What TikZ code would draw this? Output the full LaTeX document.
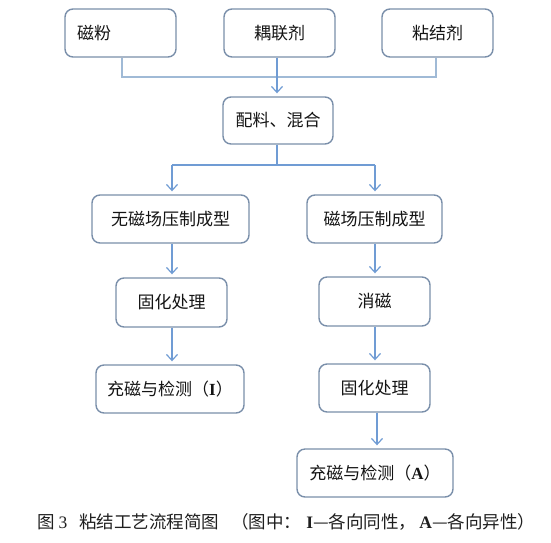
\documentclass[tikz,border=0pt]{standalone}
\usepackage{fontspec}
\setmainfont{Noto Sans CJK SC}
\newfontfamily\latinserif{Liberation Serif}
\usetikzlibrary{arrows.meta}
\definecolor{boxline}{RGB}{122,143,170}
\definecolor{arrowline}{RGB}{112,156,212}
\definecolor{joinline}{RGB}{160,186,214}
\begin{document}
\begin{tikzpicture}[x=1pt,y=-1pt,
  procbox/.style={draw=boxline, line width=1.4pt, rounded corners=8pt, fill=white,
    inner sep=0pt, font=\fontsize{17}{17}\selectfont, text=black!92},
  flow/.style={draw=arrowline, line width=1.2pt, -{Straight Barb[length=6pt,width=11pt]}, shorten >=3pt},
  joinl/.style={draw=joinline, line width=1.2pt},
  flowl/.style={draw=arrowline, line width=1.2pt}]
\useasboundingbox (0,0) rectangle (551,542);
\fill[white] (0,0) rectangle (551,542);

% top row
\node[procbox, minimum height=48pt, text width=87pt, inner xsep=12pt, align=left] (a) at (120.5,33) {磁粉};
\node[procbox, minimum width=111pt, minimum height=48pt] (b) at (279.5,33) {耦联剂};
\node[procbox, minimum width=111pt, minimum height=48pt] (c) at (437.5,33) {粘结剂};
\node[procbox, minimum width=110pt, minimum height=47pt] (d) at (278,120.5) {配料、混合};

% branches
\node[procbox, minimum width=157pt, minimum height=48pt] (e) at (170.5,219) {无磁场压制成型};
\node[procbox, minimum width=135pt, minimum height=48pt] (f) at (374.5,219) {磁场压制成型};
\node[procbox, minimum width=111pt, minimum height=49pt] (g) at (171.5,302.5) {固化处理};
\node[procbox, minimum width=111pt, minimum height=49pt] (h) at (374.5,301.5) {消磁};
\node[procbox, minimum width=148pt, minimum height=48pt] (i) at (170,389) {充磁与检测（{\latinserif\bfseries I}）};
\node[procbox, minimum width=111pt, minimum height=48pt] (j) at (374.5,388) {固化处理};
\node[procbox, minimum width=156pt, minimum height=48pt] (k) at (375,473) {充磁与检测（{\latinserif\bfseries A}）};

% junctions
\coordinate (ja) at (122,77);
\coordinate (jc) at (436,77);
\coordinate (jb) at (277,0);
\coordinate (jd) at (277,165);
\coordinate (je) at (172,165);
\coordinate (jf) at (375,165);
\coordinate (jk) at (377,0);

\draw[joinl] (a.south -| ja) -- (ja) -- (jc) -- (c.south -| jc);
\draw[flow] (b.south -| jb) -- (d.north -| jb);
\draw[flowl] (d.south -| jd) -- (jd);
\draw[flowl] (je) -- (jf);
\draw[flow] (je) -- (e.north -| je);
\draw[flow] (jf) -- (f.north -| jf);
\draw[flow] (e.south -| je) -- (g.north -| je);
\draw[flow] (g.south -| je) -- (i.north -| je);
\draw[flow] (f.south -| jf) -- (h.north -| jf);
\draw[flow] (h.south -| jf) -- (j.north -| jf);
\draw[flow] (j.south -| jk) -- (k.north -| jk);

% caption
\node[anchor=west, inner sep=0pt, font=\fontsize{17.5}{18}\selectfont, text=black!88] (cap) at (37,522)
  {图\hspace{4pt}{\latinserif 3}\hspace{12pt}粘结工艺流程简图\hspace{12pt}（图中：\hspace{5pt}{\latinserif\bfseries I}—各向同性，\hspace{3pt}{\latinserif\bfseries A}—各向异性）};
\end{tikzpicture}
\end{document}
